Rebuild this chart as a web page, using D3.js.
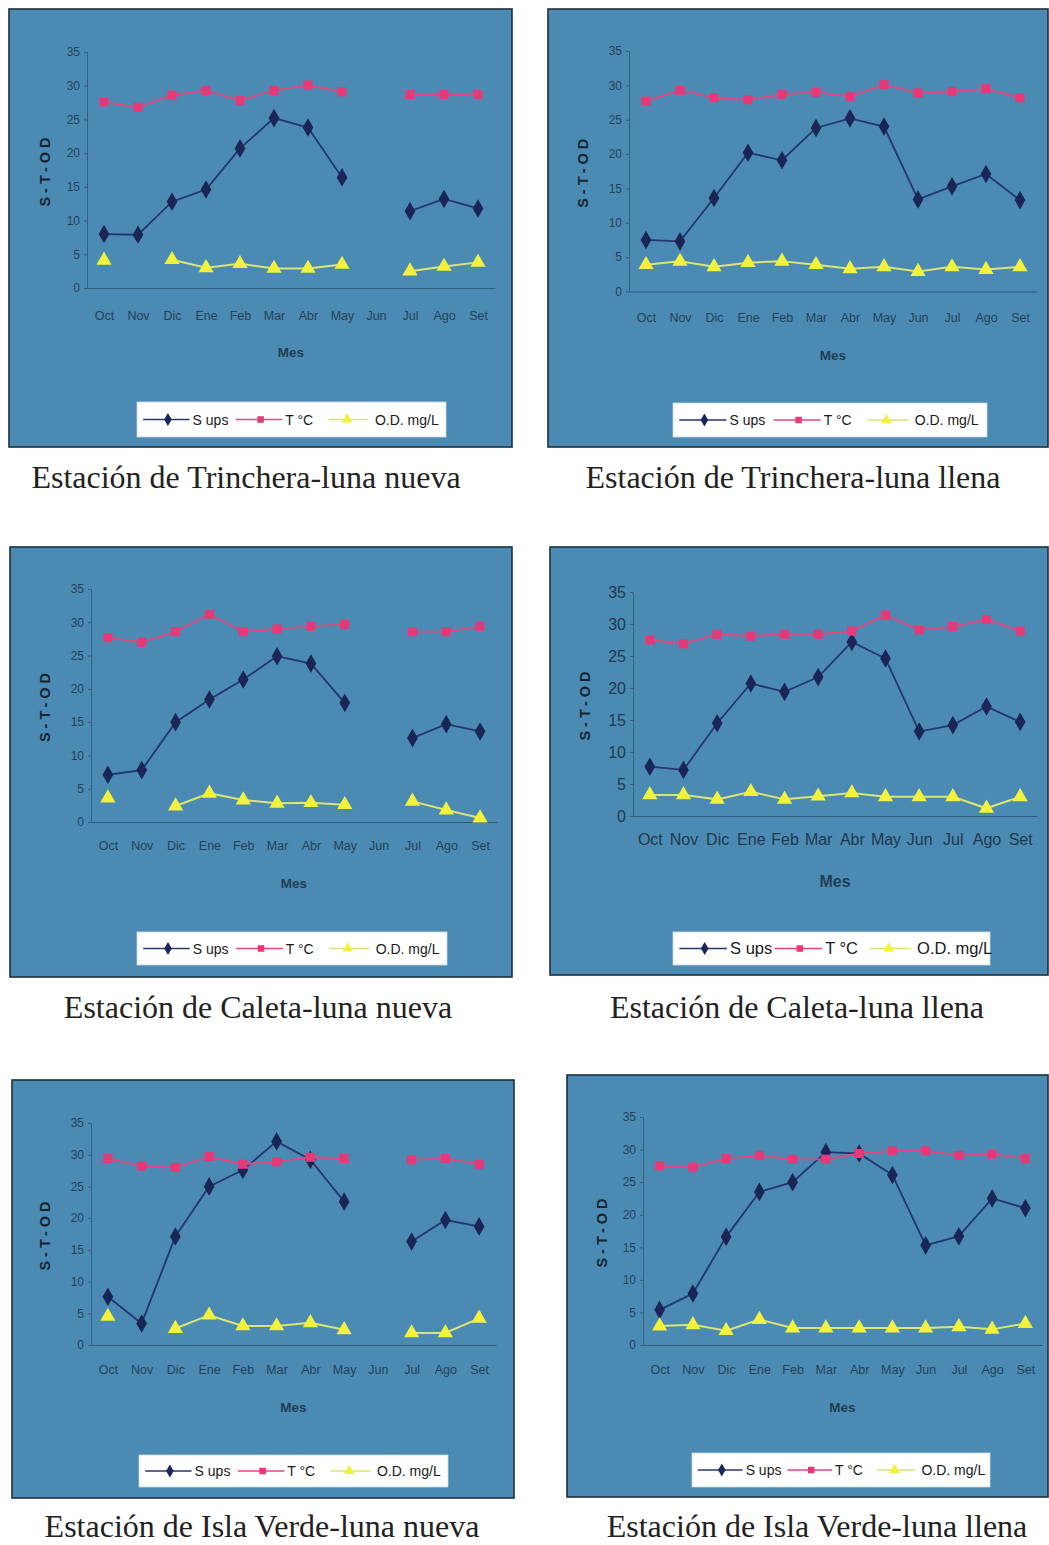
<!DOCTYPE html>
<html><head><meta charset="utf-8">
<script src="https://cdn.jsdelivr.net/npm/d3@7"></script>
<style>body{margin:0;background:#fff}</style>
</head><body>
<svg id="chart" width="1049" height="1545"></svg>
<script>
// ---------- data ----------
const months = ["Oct","Nov","Dic","Ene","Feb","Mar","Abr","May","Jun","Jul","Ago","Set"];
const yTicks = [0,5,10,15,20,25,30,35];
const seriesNames = ["S ups","T °C","O.D. mg/L"];
const yTitle = "S-T-OD";
const xTitle = "Mes";
const captions = [
  "Estación de Trinchera-luna nueva",
  "Estación de Trinchera-luna llena",
  "Estación de Caleta-luna nueva",
  "Estación de Caleta-luna llena",
  "Estación de Isla Verde-luna nueva",
  "Estación de Isla Verde-luna llena"
];

const trincheraNuevaS  = [8.0, 7.9, 12.8, 14.6, 20.7, 25.2, 23.8, 16.4, null, 11.4, 13.2, 11.8];
const trincheraNuevaT  = [27.6, 26.8, 28.6, 29.3, 27.8, 29.3, 30.1, 29.1, null, 28.7, 28.7, 28.7];
const trincheraNuevaOD = [4.1, null, 4.2, 3.0, 3.6, 2.9, 2.9, 3.5, null, 2.5, 3.2, 3.8];

const trincheraLlenaS  = [7.5, 7.3, 13.6, 20.2, 19.1, 23.8, 25.2, 24.0, 13.4, 15.3, 17.1, 13.3];
const trincheraLlenaT  = [27.7, 29.3, 28.2, 27.9, 28.7, 29.0, 28.4, 30.1, 28.9, 29.1, 29.5, 28.2];
const trincheraLlenaOD = [3.9, 4.4, 3.6, 4.2, 4.4, 3.9, 3.3, 3.6, 2.9, 3.6, 3.2, 3.6];

const caletaNuevaS  = [7.1, 7.8, 15.0, 18.4, 21.4, 24.9, 23.8, 17.9, null, 12.6, 14.7, 13.6];
const caletaNuevaT  = [27.7, 27.0, 28.6, 31.2, 28.6, 29.0, 29.4, 29.7, null, 28.6, 28.6, 29.4];
const caletaNuevaOD = [3.6, null, 2.4, 4.3, 3.3, 2.8, 2.9, 2.6, null, 3.1, 1.8, 0.6];

const caletaLlenaS  = [7.7, 7.2, 14.5, 20.7, 19.4, 21.7, 27.2, 24.6, 13.2, 14.2, 17.1, 14.7];
const caletaLlenaT  = [27.5, 26.9, 28.4, 28.1, 28.4, 28.4, 28.9, 31.4, 29.1, 29.6, 30.7, 28.9];
const caletaLlenaOD = [3.3, 3.3, 2.6, 3.8, 2.6, 3.1, 3.6, 3.0, 3.0, 3.0, 1.2, 3.0];

const islaNuevaS  = [7.6, 3.4, 17.1, 25.0, 27.6, 32.1, 29.2, 22.6, null, 16.3, 19.7, 18.7];
const islaNuevaT  = [29.4, 28.2, 28.0, 29.7, 28.5, 28.9, 29.6, 29.4, null, 29.2, 29.4, 28.5];
const islaNuevaOD = [4.5, null, 2.6, 4.7, 3.0, 3.0, 3.5, 2.4, null, 1.9, 1.9, 4.2];

const islaLlenaS  = [5.4, 7.9, 16.6, 23.5, 25.0, 29.6, 29.4, 26.1, 15.3, 16.7, 22.5, 21.0];
const islaLlenaT  = [27.5, 27.3, 28.6, 29.1, 28.5, 28.5, 29.4, 29.8, 29.8, 29.1, 29.3, 28.6];
const islaLlenaOD = [2.9, 3.1, 2.2, 3.9, 2.6, 2.6, 2.6, 2.6, 2.6, 2.8, 2.4, 3.3];

const panelData = [
  [trincheraNuevaS, trincheraNuevaT, trincheraNuevaOD],
  [trincheraLlenaS, trincheraLlenaT, trincheraLlenaOD],
  [caletaNuevaS, caletaNuevaT, caletaNuevaOD],
  [caletaLlenaS, caletaLlenaT, caletaLlenaOD],
  [islaNuevaS, islaNuevaT, islaNuevaOD],
  [islaLlenaS, islaLlenaT, islaLlenaOD]
];

// ---------- layout (positions / styles) ----------
const layouts = [
  {box:[9,9,503,438],    xr:[87,495],   yr:[288,52],    lab:30, mes:64, leg:[137,402,309,35], cap:[246,488], tt:45,  big:false},
  {box:[548,9,500,438],  xr:[629,1037], yr:[291.5,51],  lab:29, mes:63, leg:[673,403,314,34], cap:[793,488], tt:583, big:false},
  {box:[10,547,502,430], xr:[91,497],   yr:[822,589],   lab:26, mes:61, leg:[137,932,310,33], cap:[258,1018], tt:45, big:false},
  {box:[550,547,498,428],xr:[633,1037], yr:[816,592],   lab:27, mes:66, leg:[673,932,317,33], cap:[797,1018], tt:585, big:true},
  {box:[12,1080,502,418],xr:[91,496],   yr:[1345,1123], lab:27, mes:62, leg:[139,1455,309,32], cap:[262,1537], tt:45, big:false},
  {box:[567,1075,481,422],xr:[643,1042],yr:[1345,1117], lab:27, mes:62, leg:[692,1453,298,34], cap:[817,1537], tt:602, big:false}
];

const colors = {
  bg:"#4b8bb3", border:"#1d2f3c", axis:"#2a4f6c", text:"#1c3044",
  sLine:"#243670", sMark:"#1b2658",
  tLine:"#e4457f", tMark:"#e63a78",
  odLine:"#d9e676", odMark:"#f2f23c"
};
const styleSeries = [
  {line:colors.sLine, mark:colors.sMark, sym:d3.symbolDiamond, size:100},
  {line:colors.tLine, mark:colors.tMark, sym:d3.symbolSquare, size:85},
  {line:colors.odLine, mark:colors.odMark, sym:d3.symbolTriangle, size:100}
];

const svg = d3.select("#chart");
const FONT = "'Liberation Sans', Arial, sans-serif";

layouts.forEach((L, pi) => {
  const g = svg.append("g");
  const [bx,by,bw,bh] = L.box;
  g.append("rect").attr("x",bx).attr("y",by).attr("width",bw).attr("height",bh)
    .attr("fill",colors.bg).attr("stroke",colors.border).attr("stroke-width",1.6);

  const x = d3.scalePoint().domain(months).range(L.xr).padding(0.5);
  const y = d3.scaleLinear().domain([0,35]).range(L.yr);
  const fs = L.big ? 16 : 12;
  const fx = L.big ? 16 : 12.5;

  // y axis
  const ya = g.append("g").attr("transform",`translate(${L.xr[0]},0)`)
    .call(d3.axisLeft(y).tickValues(yTicks).tickSize(3).tickPadding(4).tickSizeOuter(0));
  ya.select(".domain").attr("stroke",colors.axis).attr("stroke-width",1).attr("opacity",0.7);
  ya.selectAll(".tick line").attr("stroke",colors.axis).attr("opacity",0.7);
  ya.selectAll("text").attr("fill",colors.text).attr("font-family",FONT).attr("font-size",fs)
    .attr("opacity",L.big?0.9:0.8);

  // x axis
  const xa = g.append("g").attr("transform",`translate(0,${L.yr[0]})`)
    .call(d3.axisBottom(x).tickSize(0).tickPadding(L.lab - fx*0.5 - 1).tickSizeOuter(0));
  xa.select(".domain").attr("stroke",colors.axis).attr("stroke-width",1.2).attr("opacity",0.8);
  xa.selectAll("text").attr("fill",colors.text).attr("font-family",FONT).attr("font-size",fx)
    .attr("opacity",L.big?0.9:0.8);

  // titles
  g.append("text").attr("x",(L.xr[0]+L.xr[1])/2).attr("y",L.yr[0]+L.mes+5)
    .attr("text-anchor","middle").attr("font-family",FONT).attr("font-weight","bold")
    .attr("font-size",L.big?16:13.5).attr("fill",colors.text).attr("opacity",0.85).text(xTitle);
  const ym = (L.yr[0]+L.yr[1])/2;
  g.append("text").attr("transform",`translate(${L.tt+5},${ym}) rotate(-90)`)
    .attr("text-anchor","middle").attr("font-family",FONT).attr("font-weight","bold")
    .attr("font-size",14.5).attr("letter-spacing",4).attr("fill","#16242f").text(yTitle);

  // series
  const data = panelData[pi];
  data.forEach((vals, si) => {
    const st = styleSeries[si];
    const pts = months.map((m,i)=>({m, v:vals[i]}));
    const line = d3.line().defined(d=>d.v!=null).x(d=>x(d.m)).y(d=>y(d.v));
    g.append("path").datum(pts).attr("d",line).attr("fill","none")
      .attr("stroke",st.line).attr("stroke-width",si===2?2:1.8);
    g.selectAll(null).data(pts.filter(d=>d.v!=null)).enter().append("path")
      .attr("d",d3.symbol().type(st.sym).size(st.size))
      .attr("transform",d=>`translate(${x(d.m)},${y(d.v)})`)
      .attr("fill",st.mark);
  });

  // legend
  const [lx,ly,lw,lh] = L.leg;
  const lg = g.append("g").attr("transform",`translate(${lx},${ly})`);
  lg.append("rect").attr("width",lw).attr("height",lh).attr("fill","#fff").attr("stroke","#c9d6e0").attr("stroke-width",0.8);
  const items = [
    {l0:0.02,l1:0.17,mk:0.10,tx:0.18},
    {l0:0.32,l1:0.47,mk:0.40,tx:0.48},
    {l0:0.62,l1:0.75,mk:0.68,tx:0.77}
  ];
  const lfs = L.big ? 16.5 : 14;
  items.forEach((it,si)=>{
    const st = styleSeries[si];
    const cy = lh/2;
    lg.append("line").attr("x1",it.l0*lw).attr("x2",it.l1*lw).attr("y1",cy).attr("y2",cy)
      .attr("stroke",st.line).attr("stroke-width",1.5);
    lg.append("path").attr("d",d3.symbol().type(st.sym).size(st.size*0.5))
      .attr("transform",`translate(${it.mk*lw},${cy})`).attr("fill",st.mark);
    lg.append("text").attr("x",it.tx*lw).attr("y",cy+lfs*0.36)
      .attr("font-family",FONT).attr("font-size",lfs).attr("fill","#1a1a1a").text(seriesNames[si]);
  });

  // caption
  svg.append("text").attr("x",L.cap[0]).attr("y",L.cap[1]).attr("text-anchor","middle")
    .attr("font-family","'Liberation Serif','Times New Roman',serif").attr("font-size",32)
    .attr("fill","#222").text(captions[pi]);
});
</script>
</body></html>
